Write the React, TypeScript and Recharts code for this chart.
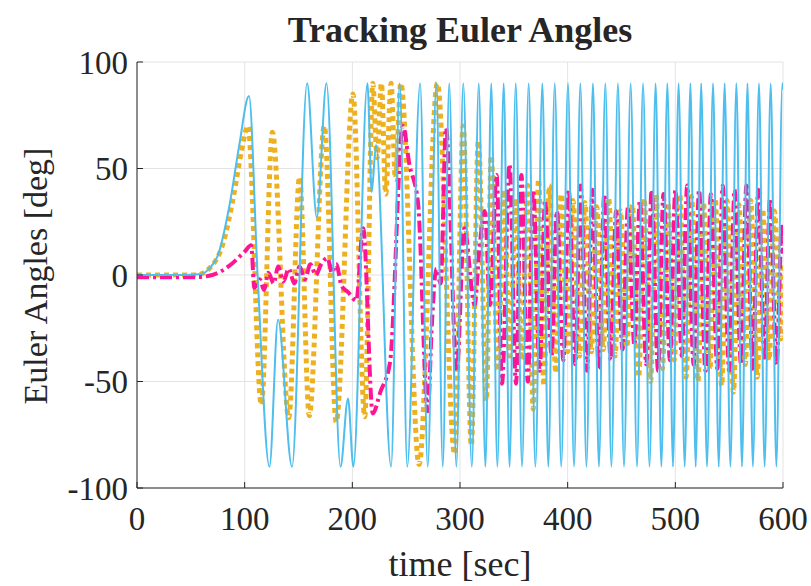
import React from 'react';
import { LineChart, Line, XAxis, YAxis, CartesianGrid } from 'recharts';

// [time (s), angle (deg)]
const cyanPts: [number, number][] = [
  [0, 0], [40, 0], [60, 0.5], [67, 3], [75, 9], [86, 33], [95, 61], [104, 84],
  [112, 0], [123, -90], [131, -21], [144, -90], [158, 90], [167, 27], [176, 90],
  [189, -90], [196, -58], [201, -90], [214, 90], [218, 39], [222, 61], [236, -90],
  [244, 90], [251, -90], [263, 90], [270, -90], [278, 90], [284, -90], [290, 90],
  [296.6, -90], [303, 90], [311, -90], [317.4, 90], [323.6, -90], [329, 90],
  [334.7, -90], [340.6, 90], [346, -90], [351.8, 90], [357.6, -90], [363.8, 90],
  [370, -90], [376.5, 90], [382, -90], [388, 90], [394, -90], [400.3, 90],
  [405.9, -90], [411.8, 90], [417.4, -90], [423.5, 90], [429, -90], [435, 90],
  [440.6, -90], [446.7, 90], [452.3, -90], [458.5, 90], [464.4, -90], [470, 90],
  [476, -90], [481.7, 90], [487, -90], [492.6, 90], [497.8, -90], [503, 90],
  [508.7, -90], [514, 90], [518.9, -90], [524, 90], [529.4, -90], [535, 90],
  [540.3, -90], [545.8, 90], [551.1, -90], [556.7, 90], [561.9, -90], [567, 90],
  [572, -90], [577.7, 90], [582.9, -90], [588.6, 90], [593.8, -90], [599.4, 90],
  [600, 87],
];

const orangePts: [number, number][] = [
  [0, 0], [55, 0], [67, 3], [80, 15], [90, 38], [97, 58], [103, 70], [115.5, -61],
  [125.7, 67], [141, -67], [151, 46], [160, -66], [174, 70], [185, -69], [200.6, 85],
  [211.5, -66.5], [219, 90], [223, 55], [227, 90], [231, 38], [236, 90], [240, 45],
  [245, 90], [262, -89], [279, 90], [295, -84], [303, 70], [310.5, -80], [317, 63],
  [324.5, -59], [329, 56], [335, -45], [341, 40], [346, -38], [352, 36], [357, -40],
  [363, 42], [368, -63], [373, 45], [378, -52], [383, 42], [389, -46], [394, 38],
  [400, -36], [405, 35], [411, -38], [416, 34], [422, -36], [427, 32], [433, -35],
  [438, 36], [444, -38], [449, 30], [455, -34], [460, 33], [466, -48], [471, 36],
  [477, -50], [482, 38], [488, -44], [493, 34], [499, -40], [504, 38], [510, -48],
  [515, 37], [521, -50], [526, 34], [532, -45], [537, 36], [543, -52], [548, 35],
  [554, -55], [559, 33], [565, -42], [570, 35], [576, -48], [581, 31], [587, -40],
  [592, 30], [598, -30], [600, 5],
];

const magentaPts: [number, number][] = [
  [0, -1], [55, -1], [70, 0], [85, 4], [100, 11], [106, 14], [109, -6], [114, -2],
  [118, -7], [122, 1], [127, -4], [131, 4], [136, -3], [141, 3], [146, -4], [151, 4],
  [156, -2], [161, 5], [166, 0], [171, 5], [177, 8], [181, 1], [185, 5], [190, -5],
  [196, -8], [203.7, -12], [210, 22], [219, -65], [226, -55], [235, -41], [247, 70],
  [253, 52], [261, 34], [270, -64], [274, -22], [278, 3], [282, -4], [287, 69],
  [297, -45], [304, 22], [313.6, -14], [318, 12], [323, 30], [328, -14], [334, 47],
  [339, -51], [346, 52], [352, -51], [357, 47], [363, -50], [368, 40], [374, -45],
  [379, 35], [385, -38], [390, 30], [396, -40], [401, 40], [407, -42], [412, 42],
  [418, -45], [423, 40], [429, -44], [434, 38], [440, -40], [445, 30], [451, -35],
  [456, 32], [462, -33], [467, 35], [473, -42], [478, 40], [484, -45], [489, 38],
  [495, -40], [500, 40], [506, -38], [511, 42], [517, -42], [522, 40], [528, -45],
  [533, 38], [539, -44], [544, 42], [550, -45], [555, 40], [561, -42], [566, 42],
  [572, -44], [577, 40], [583, -40], [588, 36], [594, -42], [599, 24], [600, 10],
];

const xTicks = [0, 100, 200, 300, 400, 500, 600];
const yTicks = [-100, -50, 0, 50, 100];

const toRows = (pts: [number, number][]) => pts.map(([t, v]) => ({ t, v }));

const FONT = '"Liberation Serif", serif';
const INK = '#262626';

export default function App() {
  const tickStyle = { fill: INK, fontSize: 33, fontFamily: FONT };
  return (
    <div style={{ position: 'relative', width: 811, height: 586, fontFamily: FONT, color: INK }}>
      <style>{'body{margin:0}'}</style>
      <div style={{ position: 'absolute', left: 137, width: 646, top: 9, textAlign: 'center', fontSize: 36, fontWeight: 'bold', lineHeight: '42px' }}>
        Tracking Euler Angles
      </div>
      <div style={{ position: 'absolute', left: 137, width: 646, top: 543, textAlign: 'center', fontSize: 36, lineHeight: '42px' }}>
        time [sec]
      </div>
      <div style={{ position: 'absolute', left: 36, top: 276, width: 0, height: 0 }}>
        <div style={{ position: 'absolute', transform: 'translate(-50%, -50%) rotate(-90deg)', whiteSpace: 'nowrap', fontSize: 34, lineHeight: '42px' }}>
          Euler Angles [deg]
        </div>
      </div>
      <LineChart width={811} height={586} margin={{ top: 62, right: 28, bottom: 58, left: 77 }}>
        <CartesianGrid stroke="#e3e3e3" />
        <XAxis
          type="number" dataKey="t" domain={[0, 600]} ticks={xTicks} height={40}
          stroke={INK} tickSize={-6} tickMargin={25} tick={tickStyle} allowDataOverflow
        />
        <XAxis
          xAxisId="top" orientation="top" type="number" dataKey="t" domain={[0, 600]}
          ticks={xTicks} height={0} stroke={INK} tickSize={-6} tick={false}
        />
        <YAxis
          type="number" domain={[-100, 100]} ticks={yTicks} width={60}
          stroke={INK} tickSize={-6} tickMargin={15} tick={tickStyle} allowDataOverflow
        />
        <YAxis
          yAxisId="right" orientation="right" type="number" domain={[-100, 100]}
          ticks={yTicks} width={0} stroke={INK} tickSize={-6} tick={false}
        />
        <Line
          data={toRows(orangePts)} dataKey="v" type="monotone" stroke="#EDB120"
          strokeWidth={5} strokeDasharray="5 4" dot={false} isAnimationActive={false}
        />
        <Line
          data={toRows(magentaPts)} dataKey="v" type="monotone" stroke="#FF1493"
          strokeWidth={4} strokeDasharray="12 4 3 4" dot={false} isAnimationActive={false}
        />
        <Line
          data={toRows(cyanPts)} dataKey="v" type="monotone" stroke="#4DBEEE"
          strokeWidth={2} dot={false} isAnimationActive={false}
        />
      </LineChart>
    </div>
  );
}
